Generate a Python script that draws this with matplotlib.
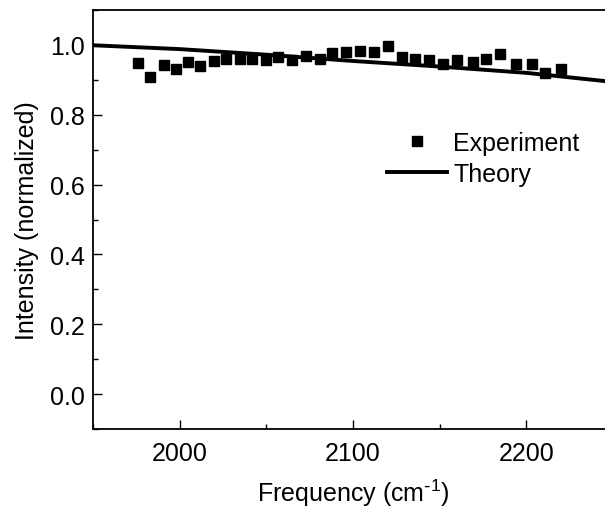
import matplotlib
matplotlib.use("Agg")
import matplotlib.pyplot as plt
from matplotlib.ticker import MultipleLocator

plt.rcParams['font.family'] = ['Liberation Sans', 'DejaVu Sans']
plt.rcParams['mathtext.default'] = 'regular'

# experiment points
freq = [1976, 1983, 1991, 1998, 2005, 2012, 2020, 2027, 2035, 2042, 2050,
        2057, 2065, 2073, 2081, 2088, 2096, 2104, 2112, 2120, 2128, 2136,
        2144, 2152, 2160, 2169, 2177, 2185, 2194, 2203, 2211, 2220]
intensity = [0.947, 0.909, 0.943, 0.931, 0.952, 0.940, 0.954, 0.961, 0.960,
             0.959, 0.956, 0.964, 0.957, 0.968, 0.959, 0.976, 0.980, 0.983,
             0.980, 0.997, 0.964, 0.960, 0.956, 0.945, 0.956, 0.951, 0.960,
             0.975, 0.945, 0.945, 0.921, 0.931]

# theory curve
theory_freq = [1950, 2000, 2050, 2100, 2150, 2200, 2250]
theory_int = [0.999, 0.988, 0.972, 0.954, 0.938, 0.920, 0.894]

fig = plt.figure(figsize=(6.05, 5.10), dpi=100)
ax = fig.add_axes([93 / 605, 80 / 510, 520 / 605, 419 / 510])

ax.plot(freq, intensity, 's', color='black', markersize=7, label='Experiment')
ax.plot(theory_freq, theory_int, '-', color='black', linewidth=2.8, label='Theory')

ax.set_xlim(1950, 2250)
ax.set_ylim(-0.1, 1.1)
ax.xaxis.set_major_locator(MultipleLocator(100))
ax.xaxis.set_minor_locator(MultipleLocator(50))
ax.yaxis.set_major_locator(MultipleLocator(0.2))
ax.yaxis.set_minor_locator(MultipleLocator(0.1))
ax.yaxis.set_major_formatter(plt.FormatStrFormatter('%.1f'))

ax.tick_params(which='both', direction='in', width=1.0, labelsize=18)
ax.tick_params(axis='x', pad=9)
ax.tick_params(axis='y', pad=6)
ax.tick_params(which='major', length=6.5)
ax.tick_params(which='minor', length=3.6)
for s in ax.spines.values():
    s.set_linewidth(1.3)

ax.set_xlabel('Frequency (cm$^{\\text{-}1}$)', fontsize=18, labelpad=8)
ax.set_ylabel('Intensity (normalized)', fontsize=18, labelpad=8)

ax.legend(loc='upper left', bbox_to_anchor=(0.565, 0.712), frameon=False,
          fontsize=18, handlelength=2.4, handletextpad=0.25, borderpad=0,
          borderaxespad=0, labelspacing=0.28)

fig.savefig('out.png', dpi=100)
